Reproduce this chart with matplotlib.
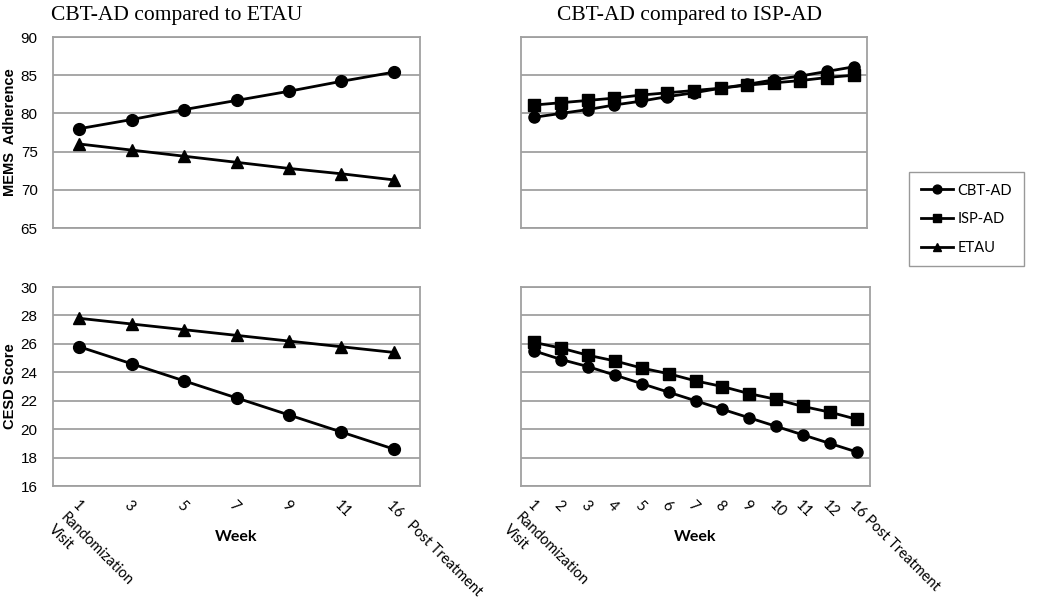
import matplotlib
matplotlib.use("Agg")
import matplotlib.pyplot as plt

# week labels
weeks_left = ["1\nRandomization\nVisit", "3", "5", "7", "9", "11", "16   Post Treatment"]
weeks_right = ["1\nRandomization\nVisit", "2", "3", "4", "5", "6", "7", "8", "9", "10",
               "11", "12", "16 Post Treatment"]

# CBT-AD vs ETAU
mems_cbt_l = [78.0, 79.2, 80.5, 81.7, 82.9, 84.2, 85.4]
mems_etau = [76.0, 75.2, 74.4, 73.6, 72.8, 72.1, 71.3]
cesd_cbt_l = [25.8, 24.6, 23.4, 22.2, 21.0, 19.8, 18.6]
cesd_etau = [27.8, 27.4, 27.0, 26.6, 26.2, 25.8, 25.4]

# CBT-AD vs ISP-AD
mems_cbt_r = [79.5, 80.0, 80.5, 81.1, 81.6, 82.2, 82.7, 83.3, 83.8, 84.4, 84.9, 85.5, 86.1]
mems_isp = [81.1, 81.4, 81.7, 82.0, 82.4, 82.7, 83.0, 83.3, 83.7, 84.0, 84.3, 84.7, 85.0]
cesd_cbt_r = [25.5, 24.9, 24.4, 23.8, 23.2, 22.6, 22.0, 21.4, 20.8, 20.2, 19.6, 19.0, 18.4]
cesd_isp = [26.1, 25.7, 25.2, 24.8, 24.3, 23.9, 23.4, 23.0, 22.5, 22.1, 21.6, 21.2, 20.7]

GRID = "#a0a0a0"
SANS = "Liberation Sans"
TICKFONT = "Lato"

fig = plt.figure(figsize=(10.5, 6.01), dpi=100)
ax_tl = fig.add_axes([0.0505, 0.6206, 0.3495, 0.3178])
ax_bl = fig.add_axes([0.0505, 0.1913, 0.3495, 0.3311])
ax_tr = fig.add_axes([0.4962, 0.6206, 0.3295, 0.3178])
ax_br = fig.add_axes([0.4962, 0.1913, 0.3324, 0.3311])


def style_axes(ax, n, ylim, yticks, show_y):
    ax.set_xlim(-0.5, n - 0.5)
    ax.set_ylim(*ylim)
    ax.set_yticks(yticks)
    ax.yaxis.grid(True, color=GRID, lw=1.3)
    ax.set_axisbelow(True)
    for s in ax.spines.values():
        s.set_color(GRID)
        s.set_linewidth(1.3)
    ax.tick_params(length=0)
    ax.tick_params(axis="y", pad=11)
    if show_y:
        for lab in ax.get_yticklabels():
            lab.set_fontfamily(SANS)
            lab.set_fontsize(11)
    else:
        ax.set_yticklabels([])


def line(ax, ys, marker, ms, label):
    ax.plot(range(len(ys)), ys, color="black", lw=2, marker=marker, ms=ms,
            markerfacecolor="black", markeredgecolor="black", label=label)


line(ax_tl, mems_cbt_l, "o", 8.5, "CBT-AD")
line(ax_tl, mems_etau, "^", 8.5, "ETAU")
line(ax_bl, cesd_cbt_l, "o", 8.5, "CBT-AD")
line(ax_bl, cesd_etau, "^", 8.5, "ETAU")
line(ax_tr, mems_cbt_r, "o", 8, "CBT-AD")
line(ax_tr, mems_isp, "s", 8, "ISP-AD")
line(ax_br, cesd_cbt_r, "o", 8, "CBT-AD")
line(ax_br, cesd_isp, "s", 8, "ISP-AD")

style_axes(ax_tl, len(weeks_left), (65, 90), range(65, 91, 5), True)
style_axes(ax_bl, len(weeks_left), (16, 30), range(16, 31, 2), True)
style_axes(ax_tr, len(weeks_right), (65, 90), range(65, 91, 5), False)
style_axes(ax_br, len(weeks_right), (16, 30), range(16, 31, 2), False)

for ax in (ax_tl, ax_tr):
    ax.set_xticks([])

for ax, labels in ((ax_bl, weeks_left), (ax_br, weeks_right)):
    ax.set_xticks(range(len(labels)))
    ax.set_xticklabels(labels, rotation=-45, ha="left", va="top",
                       rotation_mode="anchor", fontfamily=TICKFONT, fontsize=10.5,
                       linespacing=1.25)
    ax.tick_params(axis="x", pad=9)
    ax.set_xlabel("Week", fontfamily=TICKFONT, fontweight="bold", fontsize=11.5)
    ax.xaxis.set_label_coords(0.5, -0.22)

ax_tl.set_ylabel("MEMS  Adherence", fontfamily=SANS, fontweight="bold", fontsize=10.5)
ax_bl.set_ylabel("CESD Score", fontfamily=SANS, fontweight="bold", fontsize=10.5)
for ax in (ax_tl, ax_bl):
    ax.yaxis.set_label_coords(-0.097, 0.5)

fig.text(0.0486, 0.99, "CBT-AD compared to ETAU", fontfamily="Liberation Serif",
         fontsize=15.5, va="top", ha="left")
fig.text(0.5305, 0.99, "CBT-AD compared to ISP-AD", fontfamily="Liberation Serif",
         fontsize=15.5, va="top", ha="left")

h_cbt, h_etau = ax_tl.get_lines()
h_isp = ax_tr.get_lines()[1]
leg = fig.legend([h_cbt, h_isp, h_etau], ["CBT-AD", "ISP-AD", "ETAU"],
                 loc="upper left", bbox_to_anchor=(0.866, 0.714), borderaxespad=0,
                 frameon=True, fancybox=False, edgecolor="#808080",
                 prop={"family": TICKFONT, "size": 10.5},
                 handlelength=2.2, labelspacing=1.0, borderpad=0.8, handletextpad=0.3,
                 markerscale=0.75)
leg.get_frame().set_linewidth(1.0)

fig.savefig("out.png", dpi=100)
